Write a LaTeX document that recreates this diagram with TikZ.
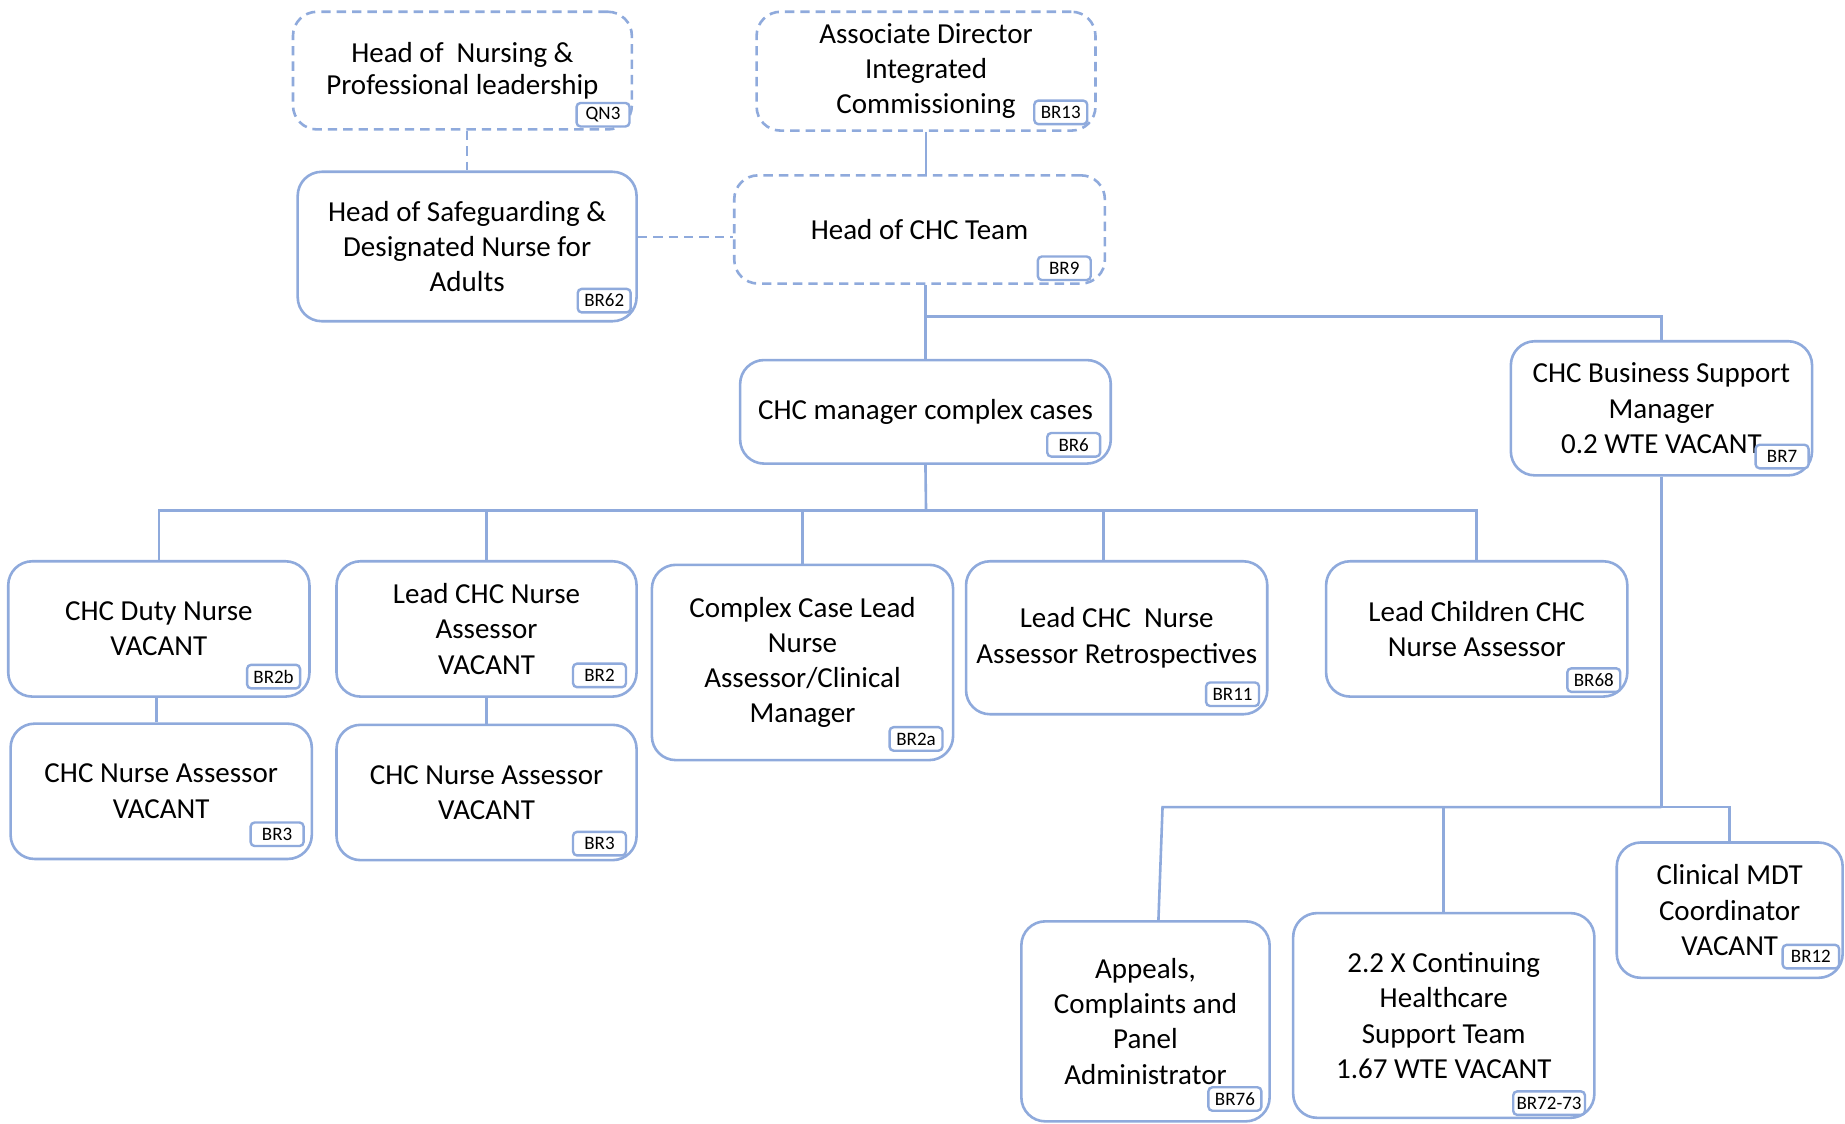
\documentclass[tikz,border=0pt]{standalone}
\usepackage{fontspec}
\setmainfont{Carlito}
\usepackage{tikz}
\usetikzlibrary{calc}
\definecolor{chcblue}{RGB}{143,170,220}

\begin{document}
\begin{tikzpicture}[x=0.5883pt,y=-0.5883pt]
  \def\u{0.5883pt}
  \tikzset{post/.style={draw=chcblue,line width=1.3pt,rounded corners=12pt,fill=white,align=center,inner sep=2pt,font=\fontsize{14.5}{17.65}\selectfont}}
  \tikzset{vpost/.style={post,dash pattern=on 4.7pt off 3pt}}
  \tikzset{tag/.style={draw=chcblue,line width=1.2pt,rounded corners=2pt,fill=white,inner sep=1pt,minimum width=45*\u,minimum height=20*\u,font=\fontsize{9.5}{11}\selectfont}}
  \tikzset{link/.style={draw=chcblue,line width=1.3pt}}
  \tikzset{vlink/.style={link,dash pattern=on 4.7pt off 3pt}}
  \useasboundingbox (0,0) rectangle (1568,955);
  % top row
  \node[vpost,minimum width=288*\u,minimum height=100*\u,font=\fontsize{14.5}{15.9}\selectfont] (nursing) at (393,60) {Head of\ \ Nursing \&\\Professional leadership};
  \node[vpost,minimum width=288*\u,minimum height=101*\u] (assoc) at (787,60.5) {Associate Director\\Integrated\\Commissioning};
  \node[post,minimum width=288*\u,minimum height=127*\u] (safe) at (397,209.5) {Head of Safeguarding \&\\Designated Nurse for\\Adults};
  \node[vpost,minimum width=315*\u,minimum height=92*\u] (headchc) at (781.5,195) {Head of CHC Team};
  \node[post,minimum width=315*\u,minimum height=88*\u] (manager) at (786.5,350) {CHC manager complex cases};
  \node[post,minimum width=256*\u,minimum height=114*\u] (business) at (1412,347) {CHC Business Support\\Manager\\0.2 WTE VACANT};
  % nurse row
  \node[post,minimum width=256*\u,minimum height=115*\u] (duty) at (135,534.5) {CHC Duty Nurse\\VACANT};
  \node[post,minimum width=255*\u,minimum height=115*\u] (lead) at (413.5,534.5) {Lead CHC Nurse\\Assessor\\VACANT};
  \node[post,minimum width=256*\u,minimum height=166*\u] (complex) at (682,563) {Complex Case Lead\\Nurse\\Assessor/Clinical\\Manager};
  \node[post,minimum width=256*\u,minimum height=130*\u] (retro) at (949,542) {Lead CHC\ \ Nurse\\Assessor Retrospectives};
  \node[post,minimum width=256*\u,minimum height=115*\u] (children) at (1255,534.5) {Lead Children CHC\\Nurse Assessor};
  \node[post,minimum width=256*\u,minimum height=115*\u] (assessA) at (137,672.5) {CHC Nurse Assessor\\VACANT};
  \node[post,minimum width=255*\u,minimum height=115*\u] (assessB) at (413.5,673.5) {CHC Nurse Assessor\\VACANT};
  % support row
  \node[post,minimum width=211*\u,minimum height=170*\u] (appeals) at (973.5,868) {Appeals,\\Complaints and\\Panel\\Administrator};
  \node[post,minimum width=256*\u,minimum height=174*\u] (cont) at (1227,863) {2.2 X Continuing\\Healthcare\\Support Team\\1.67 WTE VACANT};
  \node[post,minimum width=192*\u,minimum height=115*\u] (mdt) at (1470,773.5) {Clinical MDT\\Coordinator\\VACANT};
  % post numbers
  \node[tag] (nursingtag) at (512.5,97.5) {QN3};
  \node[tag] (assoctag) at (901.5,95.5) {BR13};
  \node[tag] (safetag) at (513.5,255.5) {BR62};
  \node[tag] (headchctag) at (904.5,228) {BR9};
  \node[tag] (managertag) at (912.5,378) {BR6};
  \node[tag] (businesstag) at (1514.5,388) {BR7};
  \node[tag] (dutytag) at (232.5,575) {BR2b};
  \node[tag] (leadtag) at (509.5,574) {BR2};
  \node[tag] (complextag) at (778.5,628) {BR2a};
  \node[tag] (retrotag) at (1047.5,590) {BR11};
  \node[tag] (childrentag) at (1354.5,578) {BR68};
  \node[tag] (assessAtag) at (235.5,709) {BR3};
  \node[tag] (assessBtag) at (509.5,717) {BR3};
  \node[tag] (appealstag) at (1049.5,934) {BR76};
  \node[tag,minimum width=61*\u] (conttag) at (1316.5,937.5) {BR72-73};
  \node[tag,minimum width=48*\u] (mdttag) at (1539,813) {BR12};
  % lines
  \coordinate (topbus) at (787,269);
  \coordinate (midbus) at (787,434);
  \coordinate (lowbus) at (1412,686);
  \coordinate (lowend) at (988,686);
  \draw[vlink] (safe.north |- nursing.south) -- (safe.north);
  \draw[link] (assoc.south) -- (assoc.south |- headchc.north);
  \draw[vlink] ($(safe.east)+(0,-8)$) -- ($(safe.east -| headchc.west)+(0,-8)$);
  \draw[link] (manager.north |- headchc.south) -- (manager.north);
  \draw[link] (topbus) -| (business.north);
  \draw[link] (manager.south) -- (midbus);
  \foreach \n in {duty,lead,complex,children}
    \draw[link] (midbus) -| (\n.north);
  \draw[link] (midbus) -| ($(retro.north)+(-11,0)$);
  \draw[link] ($(duty.south)+(-2,0)$) -- ($(duty.south |- assessA.north)+(-2,0)$);
  \draw[link] (lead.south) -- (assessB.north);
  \draw[link] (business.south) -- (lowbus);
  \draw[link] (lowbus) -| (mdt.north);
  \draw[link] (lowbus) -| (cont.north);
  \draw[link] (lowbus) -- (lowend) -- ($(appeals.north)+(11,0)$);
\end{tikzpicture}
\end{document}
